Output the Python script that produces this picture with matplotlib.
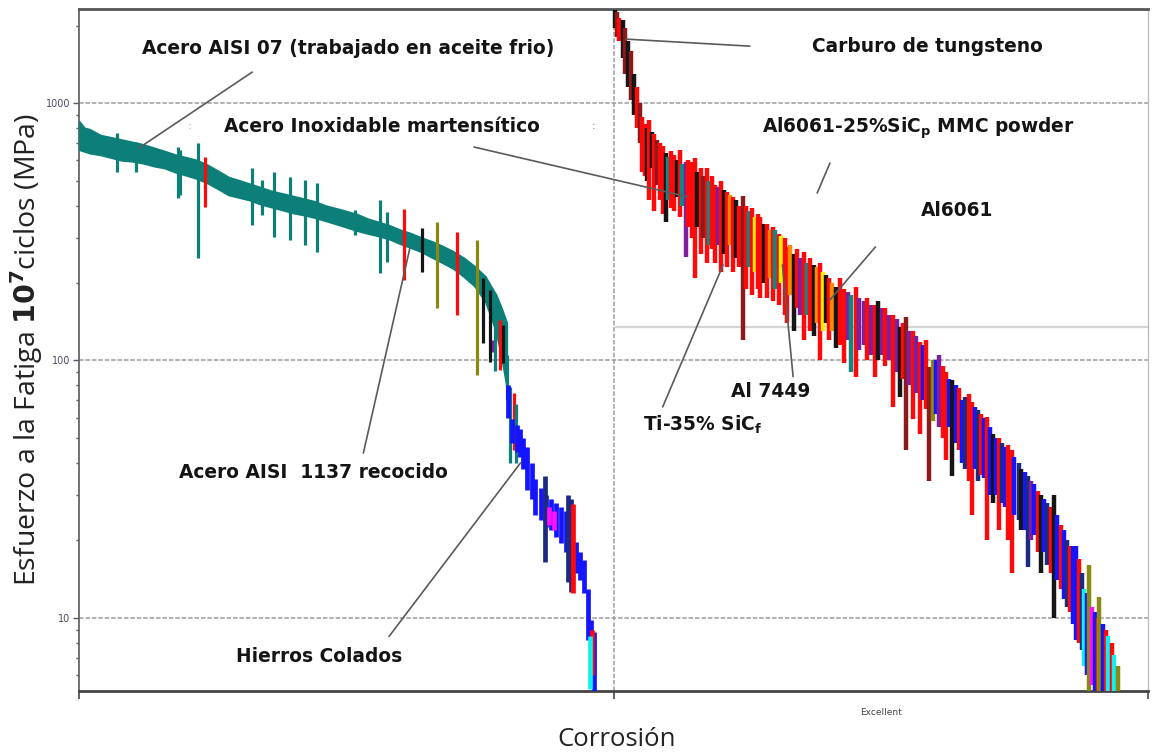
import numpy as np
import matplotlib.pyplot as plt
from matplotlib.ticker import FixedLocator, LogLocator, NullFormatter

plt.rcParams['mathtext.fontset'] = 'custom'
plt.rcParams['mathtext.bf'] = 'DejaVu Sans:bold'
plt.rcParams['mathtext.rm'] = 'DejaVu Sans'

# --- data (rank within category 0-100, fatigue strength range in MPa) ---
# left category: dense teal band of steels
band_rank = [0, 1, 2, 4, 6, 8, 10, 12, 14, 16, 18, 20, 22, 24, 26, 28, 30, 32, 34, 36, 38,
             40, 42, 44, 46, 48, 50, 52, 54, 56, 58, 60, 62, 64, 66, 68, 70, 72, 74, 76, 77,
             78, 79, 80]
band_hi = [850, 800, 790, 750, 735, 720, 705, 690, 670, 650, 630, 615, 600, 575, 545, 515, 500, 485, 470, 455, 445,
           435, 425, 415, 400, 390, 380, 370, 355, 345, 335, 322, 312, 300, 290, 278, 265, 250, 232, 212, 195,
           180, 160, 140]
band_lo = [660, 650, 640, 630, 615, 600, 595, 585, 570, 560, 540, 525, 510, 490, 465, 440, 430, 420, 405, 395, 385,
           375, 368, 360, 350, 340, 330, 320, 312, 305, 297, 285, 275, 265, 252, 240, 228, 212, 195, 170, 150,
           130, 105, 80]

# left category: single records sticking out of the band
spike_rank = [7.2, 10.6, 18.6, 18.9, 22.3, 23.5, 32.4, 34.3, 36.4, 39.4,
              42.2, 44.5, 51.7, 56.4, 57.6, 60.8, 64.2, 67.0, 70.8, 74.4,
              75.6, 76.9, 77.5, 77.8, 78.8, 79.4, 80.1, 80.7, 81.3, 81.8]
spike_hi = [765, 705, 675, 660, 700, 617, 560, 502, 540, 516,
            502, 488, 384, 420, 378, 388, 327, 345, 315, 294,
            209, 188, 120, 177, 144, 137, 105, 79, 75, 68]
spike_lo = [540, 540, 428, 440, 250, 395, 336, 366, 302, 294,
            281, 264, 306, 218, 241, 205, 220, 160, 150, 88,
            117, 99, 108, 91, 92, 98, 70, 40, 45, 40]
spike_cls = ['T', 'T', 'T', 'T', 'T', 'R', 'T', 'T', 'T', 'T',
             'T', 'T', 'T', 'T', 'T', 'R', 'K', 'L', 'R', 'L',
             'K', 'K', 'P', 'T', 'R', 'K', 'T', 'T', 'R', 'T']

# left category: cast irons
iron_rank = [80.3, 81.1, 82.0, 82.6, 83.1, 83.9, 84.7, 85.4, 86.4, 87.3, 88.3, 89.2, 90.2, 91.1,
             92.0, 93.0, 93.8, 94.5, 95.3, 95.8, 96.4, 87.1, 91.5, 92.0, 92.4, 96.0, 87.9, 88.8, 95.6]
iron_hi = [80, 59, 56, 54, 50, 46, 40, 34.5, 32, 30, 29, 28, 27, 26,
           25, 19.7, 18, 16.8, 12.9, 9.8, 8.8, 35.5, 30, 29, 27.7, 9, 27, 26, 8.5]
iron_lo = [60, 48, 44, 42, 38, 31.5, 29, 25, 24, 22.6, 22, 20.6, 19.5, 18,
           17, 15, 14, 12.5, 8.2, 5.7, 5.2, 16.5, 13.8, 12.6, 12.5, 6, 23, 22, 5.3]
iron_cls = ['B'] * 21 + ['N', 'N', 'N', 'R', 'R', 'M', 'M', 'C']

# right category ("Excellent")
exc_rank = [0.2, 0.7, 1.1, 1.7, 2.2, 2.8, 3.3, 3.9, 4.4, 5.0, 5.4, 5.9, 6.3, 6.7, 7.2, 7.6, 8.1, 8.7, 9.2, 9.8,
            10.2, 10.7, 11.3, 11.8, 12.4, 12.9, 13.5, 14.0, 14.6, 15.2, 15.7, 16.3, 16.8, 17.4, 17.9, 18.5,
            19.0, 19.6, 20.1, 20.7, 21.3, 21.8, 22.4, 22.9, 23.5, 24.2, 24.8, 25.3, 25.9, 26.4, 27.0, 27.5,
            28.1, 28.7, 29.2, 29.8, 30.3, 30.9, 31.4, 32.0, 32.5, 33.1, 33.8, 34.4, 34.9, 35.7, 36.2, 36.8,
            37.5, 38.1, 38.6, 39.2, 39.7, 40.3, 40.9, 41.6, 42.3, 43.1, 43.8, 44.5, 45.3, 46.0, 46.8, 47.5,
            48.2, 49.0, 49.5, 50.3, 50.8, 51.6, 52.3, 53.0, 53.6, 54.2, 54.7, 55.3, 56.0, 56.6, 57.3, 57.9,
            58.4, 59.1, 59.7, 60.3, 60.9, 61.6, 62.2, 62.7, 63.4, 64.0, 64.7, 65.2, 65.8, 66.5, 67.1, 67.7,
            68.2, 68.8, 69.3, 69.9, 70.4, 71.0, 71.5, 72.1, 72.6, 73.2, 73.8, 74.5, 75.0, 75.8, 76.3, 76.9,
            77.6, 78.2, 78.7, 79.5, 80.0, 80.6, 81.1, 81.9, 82.4, 82.9, 83.7, 84.3, 84.8, 85.4, 86.0, 86.5,
            87.1, 87.6, 88.0, 88.5, 88.9, 89.5, 90.0, 90.6, 90.9, 91.5, 92.1, 92.6, 93.2, 93.7, 94.3]
exc_hi = [2300, 2250, 2150, 2100, 1950, 1750, 1600, 1300, 1150, 1000, 880, 830, 800, 860, 770, 760, 720, 700, 680, 640,
          620, 650, 630, 600, 660, 580, 590, 600, 590, 610, 540, 560, 520, 560, 500, 520,
          480, 470, 500, 460, 450, 440, 430, 420, 400, 436, 400, 380, 390, 360, 370, 360,
          340, 340, 320, 330, 320, 310, 305, 300, 276, 280, 260, 270, 250, 265, 240, 250,
          235, 230, 240, 220, 215, 210, 200, 193, 210, 190, 185, 180, 193, 175, 170, 175,
          165, 165, 170, 160, 160, 150, 150, 145, 135, 140, 147, 130, 130, 125, 118, 115,
          120, 94, 100, 100, 105, 95, 90, 85, 84, 80, 78, 70, 72, 74, 69, 66,
          64, 62, 60, 60.5, 55, 52, 50, 50, 48, 46, 47, 45, 42, 40, 38, 37,
          35.5, 34, 33, 31, 30, 29, 28, 27, 30, 25, 23, 22, 20, 19, 19, 19,
          17, 15, 13, 12.5, 16, 11, 10.5, 10, 12.1, 9.5, 9, 8.5, 8, 7.2, 6.5]
exc_lo = [1950, 1800, 1750, 1500, 1300, 1150, 1030, 900, 800, 700, 540, 520, 500, 420, 560, 380, 480, 420, 370, 345,
          420, 390, 380, 430, 360, 400, 252, 330, 300, 210, 330, 260, 300, 240, 280, 270,
          240, 280, 220, 260, 230, 280, 220, 250, 230, 120, 190, 230, 180, 220, 190, 175,
          200, 175, 210, 170, 190, 165, 200, 150, 140, 180, 130, 160, 150, 120, 150, 130,
          125, 140, 100, 130, 140, 120, 130, 112, 115, 98, 120, 90, 86, 110, 115, 100,
          105, 86, 100, 105, 95, 100, 66, 90, 72, 85, 45, 80, 59, 75, 52, 70,
          65, 34, 58, 62, 55, 50, 41, 55, 35.5, 48, 45, 40, 38, 34, 25, 38,
          34, 36, 35, 20, 30, 28, 30, 22, 28, 27, 20, 15, 25, 24, 22, 22,
          15.7, 20, 21, 18, 15, 18, 16, 15, 10, 14, 13, 11.8, 11, 10.5, 9.5, 8.2,
          8, 7.5, 6.5, 6, 5.2, 5.5, 5.2, 5.2, 5.2, 5.2, 5.2, 5.2, 5.2, 5.2, 5.2]
exc_cls = ['K', 'D', 'R', 'K', 'D', 'K', 'D', 'K', 'R', 'D', 'R', 'R', 'K', 'R', 'K', 'R', 'D', 'R', 'R', 'K',
           'T', 'R', 'R', 'K', 'R', 'T', 'P', 'R', 'R', 'R', 'K', 'R', 'D', 'R', 'T', 'R',
           'R', 'P', 'R', 'K', 'R', 'A', 'R', 'K', 'R', 'D', 'R', 'T', 'R', 'Y', 'R', 'R',
           'K', 'R', 'A', 'R', 'T', 'R', 'Y', 'R', 'R', 'A', 'K', 'R', 'P', 'R', 'T', 'R',
           'K', 'A', 'R', 'Y', 'K', 'R', 'A', 'K', 'R', 'R', 'P', 'T', 'R', 'P', 'P', 'R',
           'P', 'R', 'K', 'P', 'R', 'P', 'R', 'P', 'K', 'R', 'D', 'P', 'R', 'P', 'R', 'B',
           'R', 'D', 'L', 'B', 'P', 'R', 'R', 'B', 'K', 'B', 'R', 'B', 'N', 'R', 'R', 'B',
           'N', 'R', 'B', 'R', 'B', 'K', 'B', 'R', 'N', 'B', 'R', 'R', 'B', 'N', 'K', 'B',
           'N', 'P', 'B', 'R', 'K', 'B', 'N', 'R', 'K', 'B', 'R', 'B', 'N', 'R', 'B', 'B',
           'R', 'N', 'C', 'B', 'L', 'M', 'B', 'R', 'L', 'B', 'R', 'C', 'R', 'C', 'L']

palette = {'R': '#ff0a0a', 'D': '#8c1a1a', 'K': '#151515', 'T': '#128680', 'P': '#7d1f9e',
           'A': '#ff8a00', 'Y': '#ffee00', 'B': '#1414ff', 'N': '#1d2a82', 'C': '#10f0f0',
           'L': '#8a8a12', 'M': '#ff10ff'}
band_color = '#0b7f78'

fig = plt.figure(figsize=(11.55, 7.55), dpi=100)
ax = fig.add_axes([79 / 1155, 64 / 755, 1069 / 1155, 682 / 755])
ax.set_yscale('log')
ax.set_xlim(0, 2)
ax.set_ylim(5.2, 2320)

# grid
for v in [10, 100, 1000]:
    ax.axhline(v, color='#9c9c9c', lw=1.1, ls=(0, (3, 1.2)), zorder=1)
ax.axvline(1, color='#9c9c9c', lw=1.1, ls=(0, (3, 1.2)), zorder=1)
ax.hlines(135, 1, 2, color='#d4d4d4', lw=1.6, zorder=1)

# left category
bx = np.array(band_rank) / 100
ax.fill_between(bx, band_lo, band_hi, color=band_color, linewidth=1.5, edgecolor=band_color, zorder=3)
ax.vlines(np.array(spike_rank) / 100, spike_lo, spike_hi,
          colors=[band_color if c == 'T' else palette[c] for c in spike_cls], lw=2.3, zorder=4)
ax.vlines(np.array(iron_rank) / 100, iron_lo, iron_hi,
          colors=[palette[c] for c in iron_cls], lw=3.4, zorder=4)

# right category
ax.vlines(1 + np.array(exc_rank) / 100, exc_lo, exc_hi,
          colors=[palette[c] for c in exc_cls], lw=3.2, zorder=4)

# axes styling
ax.yaxis.set_major_locator(FixedLocator([10, 100, 1000]))
ax.set_yticklabels(['10', '100', '1000'])
ax.yaxis.set_minor_locator(LogLocator(base=10, subs=np.arange(2, 10)))
ax.yaxis.set_minor_formatter(NullFormatter())
ax.tick_params(axis='y', which='major', labelsize=7, labelcolor='#4a4a66', length=4,
               color='#555555', width=1, pad=2)
ax.tick_params(axis='y', which='minor', length=2.5, color='#555555', width=1)

ax.set_xticks([0, 1, 2])
ax.set_xticklabels(['', '', ''])
ax.set_xticks([0.5, 1.5], minor=True)
ax.set_xticklabels(['', 'Excellent'], minor=True)
ax.tick_params(axis='x', which='major', length=6, color='#444444', width=1.2)
ax.tick_params(axis='x', which='minor', length=0, labelsize=6.5, labelcolor='#444444', pad=12)

ax.spines['top'].set_color('#555555')
ax.spines['top'].set_linewidth(2)
ax.spines['bottom'].set_color('#444444')
ax.spines['bottom'].set_linewidth(2)
ax.spines['left'].set_color('#666666')
ax.spines['left'].set_linewidth(1.3)
ax.spines['right'].set_color('#bdbdbd')
ax.spines['right'].set_linewidth(1)

fig.text(27 / 1155, 1 - 349 / 755, 'Esfuerzo a la Fatiga $\\mathbf{10^7}$ciclos (MPa)', rotation=90,
         ha='center', va='center', fontsize=20.5, family='Open Sans', color='#222222')
fig.text(617 / 1155, 1 - 740 / 755, 'Corrosión', ha='center', va='center',
         fontsize=18.5, family='Open Sans', color='#222222')

# labels with leader lines
labels = [
    ('Acero AISI 07 (trabajado en aceite frio)', (0.504, 1636), (0.324, 1319), (0.112, 669)),
    ('Acero Inoxidable martensítico', (0.566, 814), (0.739, 675), (1.140, 432)),
    ('Carburo de tungsteno', (1.588, 1664), (1.255, 1664), (1.024, 1772)),
    ('Al6061-25%SiC$_\\mathbf{p}$ MMC powder', (1.571, 800), (1.405, 585), (1.381, 447)),
    ('Al6061', (1.643, 384), (1.490, 276), (1.405, 172)),
    ('Al 7449', (1.294, 75.5), (1.336, 86.5), (1.316, 235)),
    ('Ti-35% SiC$_\\mathbf{f}$', (1.166, 56.3), (1.092, 66), (1.205, 235)),
    ('Acero AISI  1137 recocido', (0.439, 36.7), (0.532, 43.7), (0.619, 273)),
    ('Hierros Colados', (0.449, 7.05), (0.580, 8.47), (0.826, 40.0)),
]
for txt, pos, p0, p1 in labels:
    ax.annotate('', xy=p1, xytext=p0,
                arrowprops=dict(arrowstyle='-', color='#5a5a5a', lw=1.2, shrinkA=0, shrinkB=0),
                zorder=6)
    ax.text(pos[0], pos[1], txt, ha='center', va='center', fontsize=13.4,
            family='DejaVu Sans', weight='bold', color='#141414', zorder=7)

ax.text(0.206, 814, ':', ha='center', va='center', fontsize=8, color='#d08a50', zorder=7)
ax.text(0.962, 814, ':', ha='center', va='center', fontsize=8, color='#5a7ad0', zorder=7)

fig.savefig('out.png', dpi=100)
